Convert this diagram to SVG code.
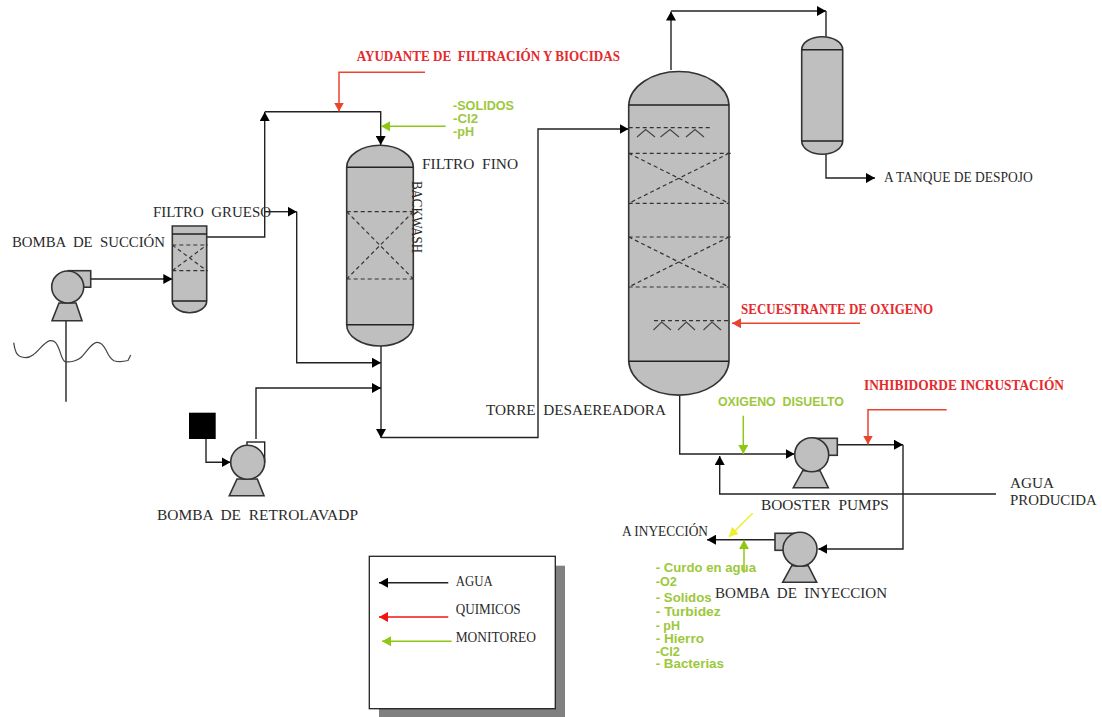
<svg xmlns="http://www.w3.org/2000/svg" width="1102" height="717" viewBox="0 0 1102 717">
<style>
text{white-space:pre}
.s{font-family:"Liberation Serif",serif;font-size:15px;fill:#2a2a2a}
.l{font-family:"Liberation Serif",serif;font-size:14px;fill:#2a2a2a}
.r{font-family:"Liberation Serif",serif;font-size:15px;font-weight:bold;fill:#e42a2e}
.g{font-family:"Liberation Sans",sans-serif;font-size:12.500px;font-weight:bold;fill:#9cc83c}
.v{fill:#bfbfbf;stroke:#333;stroke-width:1.6}
.i{fill:none;stroke:#222;stroke-width:1.4}
.d{fill:none;stroke:#333;stroke-width:1.2;stroke-dasharray:4 3}
.c{fill:none;stroke:#222;stroke-width:1.4}
.cb{fill:none;stroke:#222;stroke-width:1.4;marker-end:url(#ab)}
.cr{fill:none;stroke:#e8452c;stroke-width:1.5;marker-end:url(#ar)}
.cg{fill:none;stroke:#8fc814;stroke-width:1.5;marker-end:url(#ag)}
</style>
<defs>
<marker id="ab" viewBox="0 0 9 10" refX="9" refY="5" markerWidth="9" markerHeight="10" markerUnits="userSpaceOnUse" orient="auto"><path d="M0 0L9 5L0 10Z" fill="#000"/></marker>
<marker id="ar" viewBox="0 0 9 10" refX="9" refY="5" markerWidth="9" markerHeight="10" markerUnits="userSpaceOnUse" orient="auto"><path d="M0 0L9 5L0 10Z" fill="#e8452c"/></marker>
<marker id="ag" viewBox="0 0 9 10" refX="9" refY="5" markerWidth="9" markerHeight="10" markerUnits="userSpaceOnUse" orient="auto"><path d="M0 0L9 5L0 10Z" fill="#8fc814"/></marker>
<marker id="ay" viewBox="0 0 9 10" refX="9" refY="5" markerWidth="9" markerHeight="10" markerUnits="userSpaceOnUse" orient="auto"><path d="M0 0L9 5L0 10Z" fill="#eeee30"/></marker>
<marker id="al" viewBox="0 0 9 10" refX="9" refY="5" markerWidth="9" markerHeight="10" markerUnits="userSpaceOnUse" orient="auto"><path d="M0 0L9 5L0 10Z" fill="#f01414"/></marker>
</defs>
<rect width="1102" height="717" fill="#fff"/>

<g id="connectors">
<path class="cb" d="M90.500 279H172.300"/>
<path class="c" d="M66 320V401.700"/>
<path class="c" style="stroke:#444;stroke-width:1.2" d="M13.700 342.700C14.500 349 16 355 20 356.500C24 358 29 358 33 355C39 351 44 342 50 340.700C55 340 57 344 59 349C61 354 62 360 65 361.700C70 362.500 77 361 81 357.500C86 353 91 343 96.700 342.300C101 342 104 346 106 350C108 354 110 359 114 360.700C118 362 124 361.500 128 360.500L130.700 355"/>
<path class="cb" d="M206.700 237H264.700V112"/>
<path class="cb" d="M264.700 111.700H380.700V145"/>
<path class="cb" d="M265 211.700H296.700"/>
<path class="cb" d="M296.700 211.700V362.700H381"/>
<path class="cb" d="M381 346V438"/>
<path class="cb" d="M256 439V388H381"/>
<path class="cb" d="M381 437.500H538V129H628.500"/>
<path class="cb" d="M206 439V462.300H230.500"/>
<path class="cb" d="M671 70V11.500"/>
<path class="cb" d="M671 11H826"/>
<path class="c" d="M826 11V36.700"/>
<path class="cb" d="M826 154V178H875"/>
<path class="cb" d="M679.700 396V454H794.500"/>
<path class="cb" d="M837 444.700H903"/>
<path class="cb" d="M903 444.700V549H818.300"/>
<path class="cb" d="M996 494H719.700V456"/>
<path class="cb" d="M775 539.700H707"/>
<path class="cr" d="M425 72.300H339V111.500"/>
<path class="cg" d="M445.700 126.300H381"/>
<path class="cr" d="M860 323.300H732"/>
<path class="cr" d="M946.700 409.700H868V444.500"/>
<path class="cg" d="M743.300 415.700V454"/>
<path class="cg" d="M744 572.700V540"/>
<path style="fill:none;stroke:#eeee30;stroke-width:1.5;marker-end:url(#ay)" d="M752.700 513.300L729 536.700"/>
</g>

<g id="bomba-succion">
<rect class="v" x="68" y="270.700" width="22.700" height="16.500"/>
<path class="v" d="M59 303H76L82 320.700H52Z"/>
<circle class="v" cx="67.700" cy="287" r="16"/>
<text class="s" x="12" y="247" textLength="153" lengthAdjust="spacingAndGlyphs">BOMBA  DE  SUCCIÓN</text>
</g>

<g id="filtro-grueso">
<path class="v" d="M172.300 226H206.700V301A17.200 11.700 0 0 1 172.300 301Z"/>
<path class="i" d="M172.300 234H206.700M172.300 301H206.700"/>
<path class="d" d="M172.300 245H208M172.300 270.700H208M172.300 270.700L206.700 245M172.300 245L206.700 270.700"/>
<text class="s" x="153" y="217" textLength="118" lengthAdjust="spacingAndGlyphs">FILTRO  GRUESO</text>
</g>

<g id="filtro-fino">
<path class="v" d="M346.700 167.300A33.300 22 0 0 1 413.300 167.300V324.700A33.300 21.300 0 0 1 346.700 324.700Z"/>
<path class="i" d="M346.700 167.300H413.300M346.700 324.700H413.300"/>
<path class="d" d="M346.700 211.700H413.300M346.700 279H413.300M346.700 211.700L413.300 279M413.300 211.700L346.700 279"/>
<text class="s" x="422" y="169" textLength="96" lengthAdjust="spacingAndGlyphs">FILTRO  FINO</text>
<text class="s" transform="translate(412 181) rotate(90)" textLength="72" lengthAdjust="spacingAndGlyphs">BACKWASH</text>
</g>

<g id="bomba-retrolavado">
<rect x="189" y="412.700" width="26.700" height="26.300" fill="#000"/>
<rect class="i" x="247" y="442" width="17.700" height="20"/>
<path class="v" d="M237 479H257.300L264 495.700H229.300Z"/>
<circle class="v" cx="247.700" cy="462.300" r="17"/>
<text class="s" x="157" y="520" textLength="201" lengthAdjust="spacingAndGlyphs">BOMBA  DE  RETROLAVADP</text>
</g>

<g id="torre-desaereadora">
<path class="v" d="M628.700 105A50.200 35 0 0 1 729 105V361.300A50.200 35.400 0 0 1 628.700 361.300Z"/>
<path class="i" style="stroke-width:1.6" d="M628.700 105H729M628.700 361.300H729"/>
<path class="d" d="M628.700 127.700H710M628.700 153.300H731M628.700 203.300H729M628.700 153.300L729 203.300M729 153.300L628.700 203.300M628.700 237H731M628.700 287H729M628.700 237L729 287M729 237L628.700 287M654 320.700H729"/>
<path class="c" style="stroke:#444;stroke-width:1.1" d="M637 137L645.700 129.500L655 137M660.500 137L670 129.500L679 137M686 137L695 129.500L704 137M653.500 330L661.700 322L671 330M678 330L686.300 322L695 330M703.500 330L712 322L721 330"/>
<text class="s" x="486" y="415" textLength="180" lengthAdjust="spacingAndGlyphs">TORRE  DESAEREADORA</text>
</g>

<g id="tanque-despojo">
<path class="v" d="M801.700 49.700A20.500 13 0 0 1 842.700 49.700V141A20.500 13.300 0 0 1 801.700 141Z"/>
<path class="i" d="M801.700 49.700H842.700M801.700 141H842.700"/>
<text class="l" x="884" y="181.700" textLength="148.700" lengthAdjust="spacingAndGlyphs">A TANQUE DE DESPOJO</text>
</g>

<g id="booster-pumps">
<rect class="v" x="812" y="438.300" width="25.300" height="17"/>
<path class="v" d="M802.700 470.700H820L828.300 487.700H793.300Z"/>
<circle class="v" cx="811.700" cy="454.700" r="17"/>
<text class="s" x="761" y="510" textLength="127.700" lengthAdjust="spacingAndGlyphs">BOOSTER  PUMPS</text>
</g>

<g id="bomba-inyeccion">
<rect class="v" x="775" y="533.300" width="25" height="17"/>
<path class="v" d="M791.700 565.700H808.300L816.700 582.300H782.700Z"/>
<circle class="v" cx="800" cy="549.300" r="17"/>
<text class="s" x="715" y="597.700" textLength="172" lengthAdjust="spacingAndGlyphs">BOMBA  DE  INYECCION</text>
</g>

<g id="labels">
<text class="r" x="356.700" y="61" textLength="263.300" lengthAdjust="spacingAndGlyphs">AYUDANTE DE  FILTRACIÓN Y BIOCIDAS</text>
<text class="g" x="453" y="110" textLength="61" lengthAdjust="spacingAndGlyphs">-SOLIDOS</text>
<text class="g" x="453" y="123" textLength="25" lengthAdjust="spacingAndGlyphs">-Cl2</text>
<text class="g" x="453" y="135.700" textLength="21" lengthAdjust="spacingAndGlyphs">-pH</text>
<text class="r" x="741" y="314" textLength="192" lengthAdjust="spacingAndGlyphs">SECUESTRANTE DE OXIGENO</text>
<text class="r" x="864" y="390" textLength="200" lengthAdjust="spacingAndGlyphs">INHIBIDORDE INCRUSTACIÓN</text>
<text class="g" x="718" y="405.700" textLength="126" lengthAdjust="spacingAndGlyphs">OXIGENO  DISUELTO</text>
<text class="s" x="1010" y="488" textLength="44" lengthAdjust="spacingAndGlyphs">AGUA</text>
<text class="s" x="1010" y="505" textLength="86.700" lengthAdjust="spacingAndGlyphs">PRODUCIDA</text>
<text class="l" x="622" y="536" textLength="86" lengthAdjust="spacingAndGlyphs">A INYECCIÓN</text>
<text class="g" x="655.700" y="571.700" textLength="100.300" lengthAdjust="spacingAndGlyphs">- Curdo en agua</text>
<text class="g" x="655.700" y="585.700" textLength="21" lengthAdjust="spacingAndGlyphs">-O2</text>
<text class="g" x="655.700" y="601.700" textLength="56" lengthAdjust="spacingAndGlyphs">- Solidos</text>
<text class="g" x="655.700" y="616" textLength="65" lengthAdjust="spacingAndGlyphs">- Turbidez</text>
<text class="g" x="655.700" y="630" textLength="24.300" lengthAdjust="spacingAndGlyphs">- pH</text>
<text class="g" x="655.700" y="643" textLength="48.300" lengthAdjust="spacingAndGlyphs">- Hierro</text>
<text class="g" x="655.700" y="655.700" textLength="24.300" lengthAdjust="spacingAndGlyphs">-Cl2</text>
<text class="g" x="655.700" y="668" textLength="68.300" lengthAdjust="spacingAndGlyphs">- Bacterias</text>
</g>

<g id="legend">
<rect x="379" y="565.700" width="186" height="151.300" fill="#808080"/>
<rect x="369.300" y="556.300" width="186" height="152.400" fill="#fff" stroke="#222" stroke-width="1.3"/>
<path class="cb" d="M448.300 582.700H379"/>
<path style="fill:none;stroke:#f01414;stroke-width:1.5;marker-end:url(#al)" d="M448.300 617H379"/>
<path class="cg" d="M451.700 641.300H382"/>
<text class="l" x="455.700" y="585.700" textLength="37" lengthAdjust="spacingAndGlyphs">AGUA</text>
<text class="l" x="455.700" y="614" textLength="65" lengthAdjust="spacingAndGlyphs">QUIMICOS</text>
<text class="l" x="455.700" y="641.700" textLength="80.300" lengthAdjust="spacingAndGlyphs">MONITOREO</text>
</g>
</svg>
